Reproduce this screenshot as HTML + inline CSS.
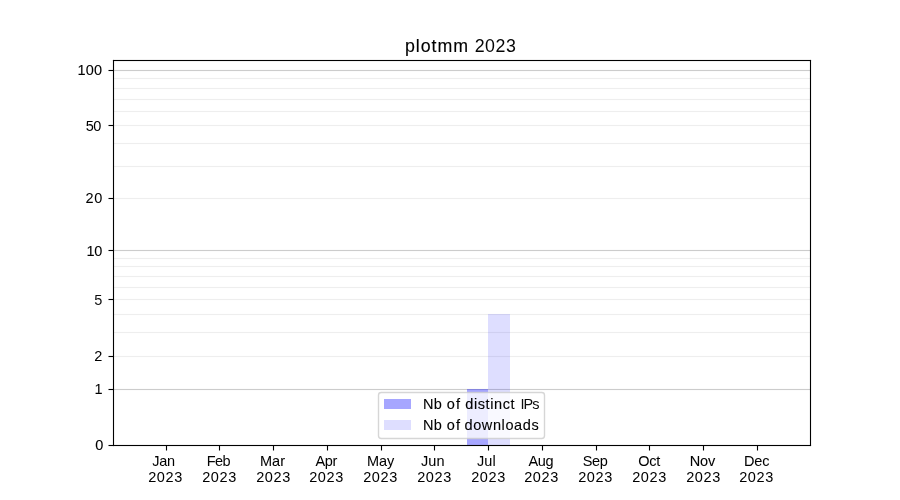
<!DOCTYPE html>
<html lang="en">
<head>
<meta charset="utf-8">
<title>plotmm 2023</title>
<style>
html,body{margin:0;padding:0;background:#ffffff;}
body{width:900px;height:500px;position:relative;overflow:hidden;font-family:"Liberation Sans",sans-serif;color:#000;}
.g{position:absolute;left:0;top:0;display:block;}
.labels{position:absolute;left:0;top:0;width:900px;height:500px;will-change:transform;}
.tx{position:absolute;display:block;white-space:nowrap;line-height:1;color:#000;font-family:"Liberation Sans",sans-serif;}
</style>
</head>
<body>
<svg class="g" width="900" height="500" viewBox="0 0 900 500">
<g class="grid">
<rect x="113" y="355.945" width="698" height="1.111" fill="#eeeeee"/>
<rect x="113" y="331.945" width="698" height="1.111" fill="#eeeeee"/>
<rect x="113" y="313.945" width="698" height="1.111" fill="#eeeeee"/>
<rect x="113" y="298.945" width="698" height="1.111" fill="#eeeeee"/>
<rect x="113" y="286.945" width="698" height="1.111" fill="#eeeeee"/>
<rect x="113" y="275.945" width="698" height="1.111" fill="#eeeeee"/>
<rect x="113" y="265.945" width="698" height="1.111" fill="#eeeeee"/>
<rect x="113" y="257.945" width="698" height="1.111" fill="#eeeeee"/>
<rect x="113" y="197.945" width="698" height="1.111" fill="#eeeeee"/>
<rect x="113" y="165.945" width="698" height="1.111" fill="#eeeeee"/>
<rect x="113" y="142.945" width="698" height="1.111" fill="#eeeeee"/>
<rect x="113" y="124.945" width="698" height="1.111" fill="#eeeeee"/>
<rect x="113" y="110.945" width="698" height="1.111" fill="#eeeeee"/>
<rect x="113" y="98.9445" width="698" height="1.111" fill="#eeeeee"/>
<rect x="113" y="87.9445" width="698" height="1.111" fill="#eeeeee"/>
<rect x="113" y="77.9445" width="698" height="1.111" fill="#eeeeee"/>
<rect x="113" y="388.945" width="698" height="1.111" fill="#cccccc"/>
<rect x="113" y="249.945" width="698" height="1.111" fill="#cccccc"/>
<rect x="113" y="69.9445" width="698" height="1.111" fill="#cccccc"/>
</g>
<g class="bars">
<rect x="467" y="389" width="21" height="56" fill="rgb(0,0,255)" fill-opacity="0.35" shape-rendering="crispEdges"/>
<rect x="488" y="314" width="22" height="131" fill="rgb(0,0,255)" fill-opacity="0.13" shape-rendering="crispEdges"/>
</g>
<g class="ticks">
<rect x="165.945" y="445.5" width="1.111" height="5" fill="#000"/>
<rect x="218.945" y="445.5" width="1.111" height="5" fill="#000"/>
<rect x="272.945" y="445.5" width="1.111" height="5" fill="#000"/>
<rect x="326.945" y="445.5" width="1.111" height="5" fill="#000"/>
<rect x="380.945" y="445.5" width="1.111" height="5" fill="#000"/>
<rect x="433.945" y="445.5" width="1.111" height="5" fill="#000"/>
<rect x="487.945" y="445.5" width="1.111" height="5" fill="#000"/>
<rect x="541.944" y="445.5" width="1.111" height="5" fill="#000"/>
<rect x="595.944" y="445.5" width="1.111" height="5" fill="#000"/>
<rect x="648.944" y="445.5" width="1.111" height="5" fill="#000"/>
<rect x="702.944" y="445.5" width="1.111" height="5" fill="#000"/>
<rect x="756.944" y="445.5" width="1.111" height="5" fill="#000"/>
<rect x="108.5" y="444.945" width="5" height="1.111" fill="#000"/>
<rect x="108.5" y="388.945" width="5" height="1.111" fill="#000"/>
<rect x="108.5" y="355.945" width="5" height="1.111" fill="#000"/>
<rect x="108.5" y="298.945" width="5" height="1.111" fill="#000"/>
<rect x="108.5" y="249.945" width="5" height="1.111" fill="#000"/>
<rect x="108.5" y="197.945" width="5" height="1.111" fill="#000"/>
<rect x="108.5" y="124.945" width="5" height="1.111" fill="#000"/>
<rect x="108.5" y="69.9445" width="5" height="1.111" fill="#000"/>
</g>
<g class="spines">
<rect x="112.945" y="59.9445" width="1.111" height="386.111" fill="#000"/>
<rect x="809.944" y="59.9445" width="1.111" height="386.111" fill="#000"/>
<rect x="112.945" y="444.945" width="698.111" height="1.111" fill="#000"/>
<rect x="112.945" y="59.9445" width="698.111" height="1.111" fill="#000"/>
</g>
<rect x="378.5" y="392.5" width="166" height="46" rx="2.8" ry="2.8" fill="#fff" fill-opacity="0.8" stroke="#cccccc" stroke-opacity="0.8" stroke-width="1.389"/>
<rect x="384" y="399" width="27" height="10" fill="rgb(0,0,255)" fill-opacity="0.35" shape-rendering="crispEdges"/>
<rect x="384" y="420" width="27" height="10" fill="rgb(0,0,255)" fill-opacity="0.13" shape-rendering="crispEdges"/>
</svg>
<div class="labels">
<div class="title"><span class="tx t" id="tA" style="left:404.875px;top:38px;font-size:17.8px;letter-spacing:1px;-webkit-text-stroke:0.139px #000">plotmm</span> <span class="tx t" id="tB" style="left:474.625px;top:38px;font-size:17.8px;letter-spacing:0.6px;color:#050505">2023</span></div>
<div class="yaxis"><div class="tx y" id="y100" style="left:77.375px;top:63px;font-size:14.5px;letter-spacing:0.3px;-webkit-text-stroke:0.101px #000">100</div><div class="tx y" id="y50" style="left:85.625px;top:119px;font-size:14.5px;letter-spacing:-0.4px;-webkit-text-stroke:0.006px #000">50</div><div class="tx y" id="y20" style="left:85.5px;top:191px;font-size:14.5px;letter-spacing:0.6px;-webkit-text-stroke:0.04px #000">20</div><div class="tx y" id="y10" style="left:86.5px;top:244px;font-size:14.5px;letter-spacing:-0.4px;-webkit-text-stroke:0.082px #000">10</div><div class="tx y" id="y5" style="left:94.125px;top:293px;font-size:14.5px;color:#0d0d0d">5</div><div class="tx y" id="y2" style="left:94.125px;top:349px;font-size:14.5px;-webkit-text-stroke:0.022px #000">2</div><div class="tx y" id="y1" style="left:94.375px;top:382px;font-size:14.5px;-webkit-text-stroke:0.04px #000">1</div><div class="tx y" id="y0" style="left:95.125px;top:438px;font-size:14.5px;-webkit-text-stroke:0.117px #000">0</div></div>
<div class="xaxis">
<div class="xt"><span class="tx mo" id="m0" style="left:152.125px;top:454px;font-size:14.5px;letter-spacing:-0.2px;-webkit-text-stroke:0.009px #000">Jan</span><br><span class="tx yr" id="yr0" style="left:148.125px;top:470px;font-size:14.5px;letter-spacing:0.667px;-webkit-text-stroke:0.022px #000">2023</span></div>
<div class="xt"><span class="tx mo" id="m1" style="left:206.625px;top:454px;font-size:14.5px;letter-spacing:-0.5px;color:#040404">Feb</span><br><span class="tx yr" id="yr1" style="left:202.125px;top:470px;font-size:14.5px;letter-spacing:0.667px;-webkit-text-stroke:0.022px #000">2023</span></div>
<div class="xt"><span class="tx mo" id="m2" style="left:260px;top:454px;font-size:14.5px;-webkit-text-stroke:0.051px #000">Mar</span><br><span class="tx yr" id="yr2" style="left:256.125px;top:470px;font-size:14.5px;letter-spacing:0.667px;-webkit-text-stroke:0.022px #000">2023</span></div>
<div class="xt"><span class="tx mo" id="m3" style="left:315.375px;top:454px;font-size:14.5px;letter-spacing:-0.3px;-webkit-text-stroke:0.024px #000">Apr</span><br><span class="tx yr" id="yr3" style="left:309.125px;top:470px;font-size:14.5px;letter-spacing:0.667px;-webkit-text-stroke:0.022px #000">2023</span></div>
<div class="xt"><span class="tx mo" id="m4" style="left:366.875px;top:454px;font-size:14.5px;-webkit-text-stroke:0.034px #000">May</span><br><span class="tx yr" id="yr4" style="left:363.125px;top:470px;font-size:14.5px;letter-spacing:0.667px;-webkit-text-stroke:0.022px #000">2023</span></div>
<div class="xt"><span class="tx mo" id="m5" style="left:420.875px;top:454px;font-size:14.5px;letter-spacing:0.1px;-webkit-text-stroke:0.037px #000">Jun</span><br><span class="tx yr" id="yr5" style="left:417.125px;top:470px;font-size:14.5px;letter-spacing:0.667px;-webkit-text-stroke:0.022px #000">2023</span></div>
<div class="xt"><span class="tx mo" id="m6" style="left:476.875px;top:454px;font-size:14.5px;letter-spacing:0.1px;-webkit-text-stroke:0.015px #000">Jul</span><br><span class="tx yr" id="yr6" style="left:471.125px;top:470px;font-size:14.5px;letter-spacing:0.667px;-webkit-text-stroke:0.022px #000">2023</span></div>
<div class="xt"><span class="tx mo" id="m7" style="left:528.375px;top:454px;font-size:14.5px;letter-spacing:-0.3px;-webkit-text-stroke:0.022px #000">Aug</span><br><span class="tx yr" id="yr7" style="left:524.125px;top:470px;font-size:14.5px;letter-spacing:0.667px;-webkit-text-stroke:0.022px #000">2023</span></div>
<div class="xt"><span class="tx mo" id="m8" style="left:582.625px;top:454px;font-size:14.5px;letter-spacing:-0.3px;-webkit-text-stroke:0.02px #000">Sep</span><br><span class="tx yr" id="yr8" style="left:578.125px;top:470px;font-size:14.5px;letter-spacing:0.667px;-webkit-text-stroke:0.022px #000">2023</span></div>
<div class="xt"><span class="tx mo" id="m9" style="left:638.25px;top:454px;font-size:14.5px;letter-spacing:-0.3px;-webkit-text-stroke:0.034px #000">Oct</span><br><span class="tx yr" id="yr9" style="left:632.125px;top:470px;font-size:14.5px;letter-spacing:0.667px;-webkit-text-stroke:0.022px #000">2023</span></div>
<div class="xt"><span class="tx mo" id="m10" style="left:689.75px;top:454px;font-size:14.5px;letter-spacing:-0.2px;-webkit-text-stroke:0.071px #000">Nov</span><br><span class="tx yr" id="yr10" style="left:686.125px;top:470px;font-size:14.5px;letter-spacing:0.667px;-webkit-text-stroke:0.022px #000">2023</span></div>
<div class="xt"><span class="tx mo" id="m11" style="left:744px;top:454px;font-size:14.5px;letter-spacing:-0.2px;-webkit-text-stroke:0.037px #000">Dec</span><br><span class="tx yr" id="yr11" style="left:739.125px;top:470px;font-size:14.5px;letter-spacing:0.667px;-webkit-text-stroke:0.022px #000">2023</span></div>
</div>
<div class="legend"><div class="lg"><span class="tx l" id="l1a" style="left:422.875px;top:397px;font-size:14.5px;letter-spacing:0.3px;-webkit-text-stroke:0.105px #000">Nb</span> <span class="tx l" id="l1b" style="left:446.625px;top:397px;font-size:14.5px;letter-spacing:1.3px;-webkit-text-stroke:0.153px #000">of</span> <span class="tx l" id="l1c" style="left:465.25px;top:397px;font-size:14.5px;letter-spacing:0.6px;-webkit-text-stroke:0.128px #000">distinct</span> <span class="tx l" id="l1d" style="left:520.375px;top:397px;font-size:14.5px;letter-spacing:-0.9px;color:#0b0b0b">IPs</span></div><div class="lg"><span class="tx l" id="l2a" style="left:422.875px;top:418px;font-size:14.5px;letter-spacing:0.3px;-webkit-text-stroke:0.105px #000">Nb</span> <span class="tx l" id="l2b" style="left:446.625px;top:418px;font-size:14.5px;letter-spacing:1.3px;-webkit-text-stroke:0.153px #000">of</span> <span class="tx l" id="l2c" style="left:464.5px;top:418px;font-size:14.5px;letter-spacing:0.6px;-webkit-text-stroke:0.111px #000">downloads</span></div></div>
</div>
</body>
</html>
